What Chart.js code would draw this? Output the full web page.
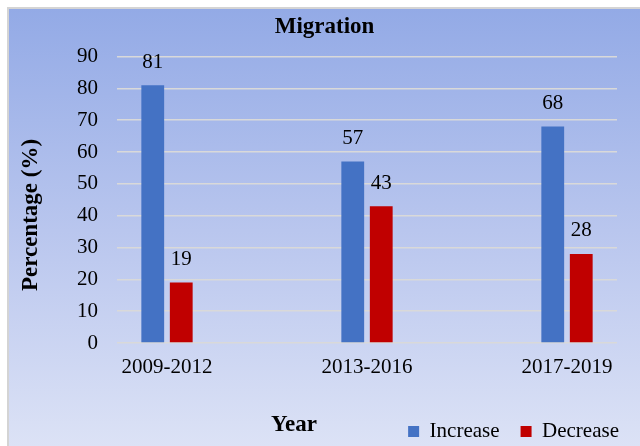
<!DOCTYPE html>
<html>
<head>
<meta charset="utf-8">
<script src="https://cdn.jsdelivr.net/npm/chart.js@4.4.1/dist/chart.umd.min.js"></script>
<style>
  html, body { margin: 0; padding: 0; background: #fff; overflow: hidden; }
  #panel {
    position: absolute;
    left: 7px;
    top: 7px;
    width: 632px;
    height: 444px;
    border-left: 2px solid #d4d4d4;
    border-top: 2px solid #d4d4d4;
    background: linear-gradient(to bottom, #93aae6 0%, #b9c6ee 50%, #dde3f6 100%);
  }
  #wrap { position: absolute; left: 0; top: 0; width: 631px; height: 443px; }
</style>
</head>
<body>
<div id="panel">
  <div id="wrap"><canvas id="migrationChart"></canvas></div>
</div>
<script>
const periods = ["2009-2012", "2013-2016", "2017-2019"];
const increase = [81, 57, 68];
const decrease = [19, 43, 28];
const yTicks = [0, 10, 20, 30, 40, 50, 60, 70, 80, 90];

const serif = "'Liberation Serif', 'Times New Roman', serif";

// value labels above each bar
const barLabels = {
  id: "barLabels",
  afterDatasetsDraw(chart) {
    const ctx = chart.ctx;
    ctx.save();
    ctx.font = "21px " + serif;
    ctx.fillStyle = "#000";
    ctx.textAlign = "center";
    ctx.textBaseline = "middle";
    chart.data.datasets.forEach((ds, i) => {
      chart.getDatasetMeta(i).data.forEach((bar, j) => {
        ctx.fillText(ds.data[j].y, bar.x, bar.y - 23);
      });
    });
    ctx.restore();
  }
};

// axis titles placed where the original has them
const axisTitles = {
  id: "axisTitles",
  afterDraw(chart) {
    const ctx = chart.ctx;
    ctx.save();
    ctx.font = "bold 23px " + serif;
    ctx.fillStyle = "#000";
    ctx.textAlign = "center";
    ctx.textBaseline = "middle";
    ctx.fillText("Year", 285, 416);
    ctx.translate(22, 206);
    ctx.rotate(-Math.PI / 2);
    ctx.fillText("Percentage (%)", 0, 0);
    ctx.restore();
  }
};

new Chart(document.getElementById("migrationChart"), {
  type: "bar",
  data: {
    datasets: [
      {
        label: "Increase",
        data: increase.map((v, i) => ({ x: i, y: v })),
        backgroundColor: "#4472c4"
      },
      {
        label: "Decrease",
        data: decrease.map((v, i) => ({ x: i, y: v })),
        backgroundColor: "#c00000"
      }
    ]
  },
  options: {
    responsive: true,
    maintainAspectRatio: false,
    animation: false,
    datasets: {
      bar: { categoryPercentage: 0.285, barPercentage: 0.8 }
    },
    layout: { padding: 0 },
    scales: {
      x: {
        type: "linear",
        offset: false,
        min: -0.25,
        max: 2.25,
        afterBuildTicks: scale => {
          scale.ticks = periods.map((p, i) => ({ value: i }));
        },
        afterFit: scale => { scale.height = 57; },
        grid: { display: false, drawTicks: false },
        border: { display: false },
        ticks: {
          padding: 12,
          color: "#000",
          font: { family: serif, size: 21 },
          callback: v => periods[v]
        }
      },
      y: {
        min: 0,
        max: 90,
        afterBuildTicks: scale => {
          scale.ticks = yTicks.map(v => ({ value: v }));
        },
        afterFit: scale => { scale.width = 108; },
        grid: { color: "#d9d9d9", lineWidth: 1.5, drawTicks: false },
        border: { display: false },
        ticks: {
          padding: 19,
          color: "#000",
          font: { family: serif, size: 21 }
        }
      },
      y2: {
        position: "right",
        afterFit: scale => { scale.width = 23; },
        grid: { display: false, drawTicks: false },
        border: { display: false },
        ticks: { display: false }
      }
    },
    plugins: {
      title: {
        display: true,
        text: "Migration",
        color: "#000",
        font: { family: serif, size: 23, weight: "bold" },
        padding: { top: 4, bottom: 16 }
      },
      legend: {
        position: "bottom",
        align: "end",
        labels: {
          boxWidth: 11,
          boxHeight: 11,
          padding: 21,
          color: "#000",
          font: { family: serif, size: 21 }
        }
      },
      tooltip: { enabled: false }
    }
  },
  plugins: [barLabels, axisTitles]
});
</script>
</body>
</html>
